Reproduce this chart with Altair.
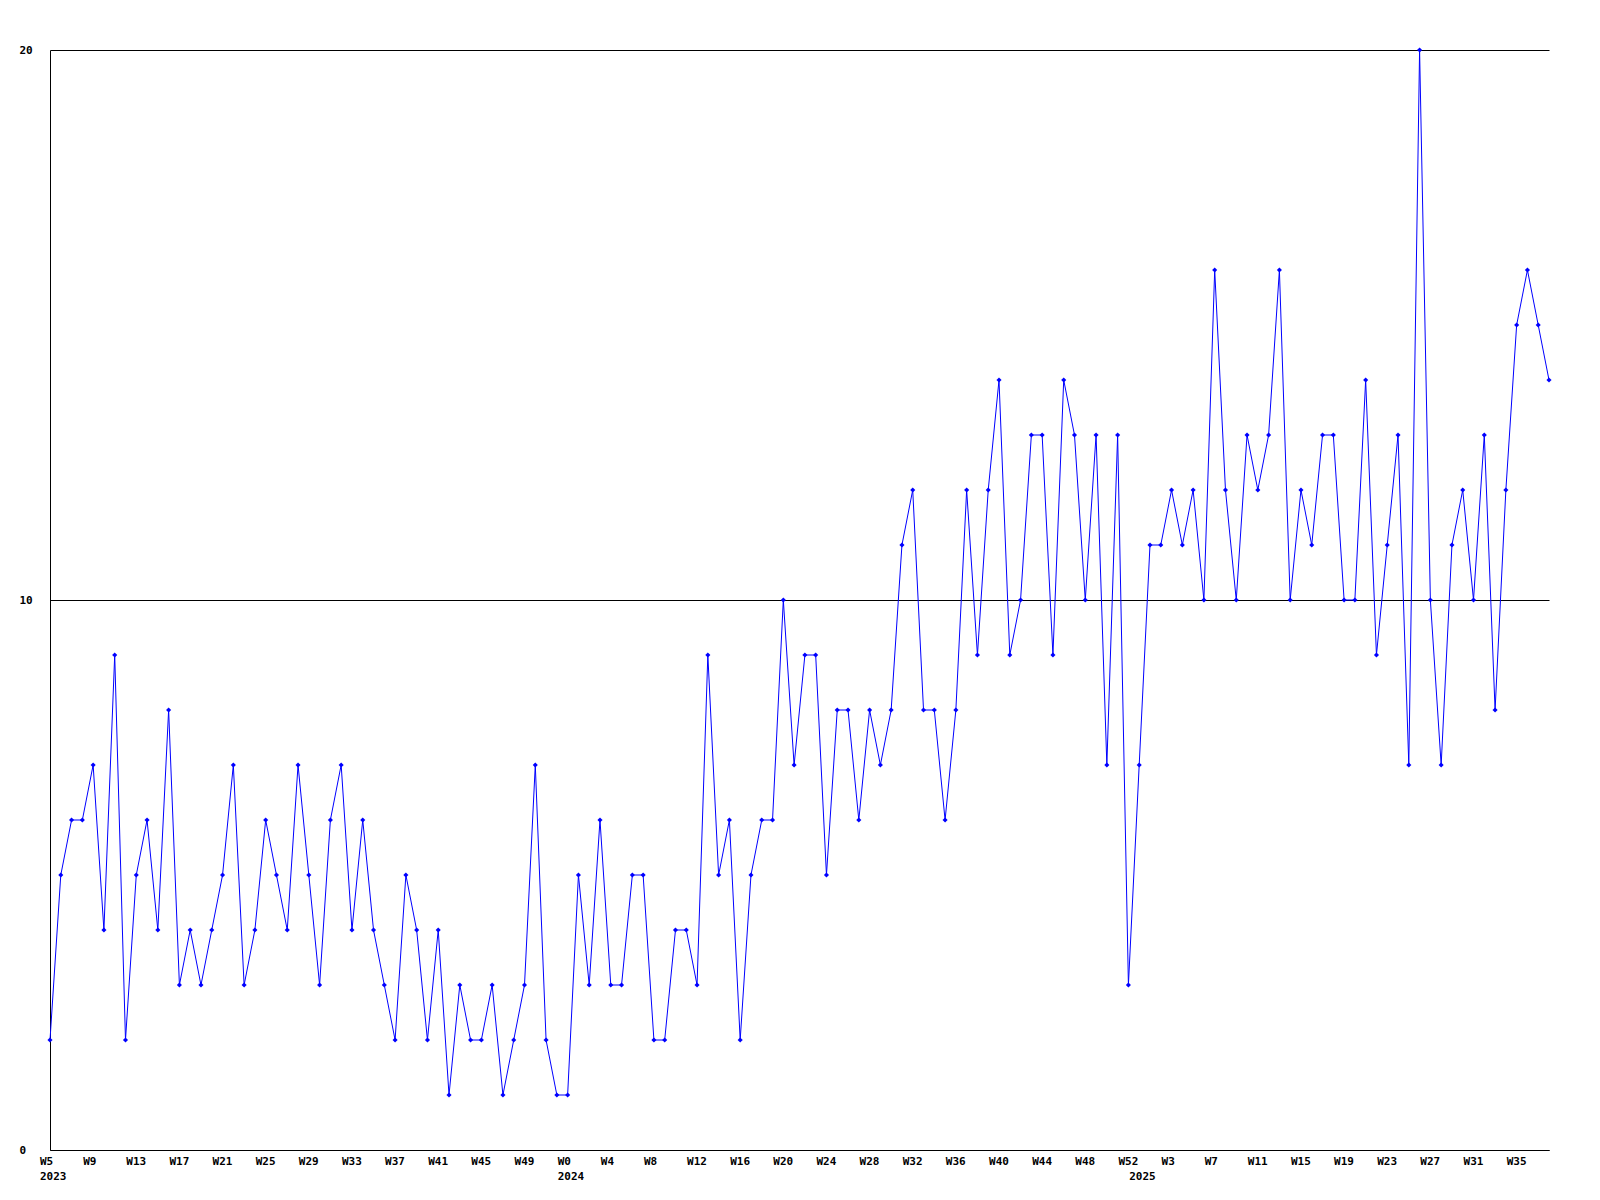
import altair as alt
import pandas as pd

# Weekly values, 2023 W5 .. 2025 W38
values_2023 = [2, 5, 6, 6, 7, 4, 9, 2, 5, 6, 4, 8, 3, 4, 3, 4, 5, 7, 3, 4,
               6, 5, 4, 7, 5, 3, 6, 7, 4, 6, 4, 3, 2, 5, 4, 2, 4, 1, 3, 2,
               2, 3, 1, 2, 3, 7, 2, 1]
values_2024 = [1, 5, 3, 6, 3, 3, 5, 5, 2, 2, 4, 4, 3, 9, 5, 6, 2, 5, 6, 6,
               10, 7, 9, 9, 5, 8, 8, 6, 8, 7, 8, 11, 12, 8, 8, 6, 8, 12, 9, 12,
               14, 9, 10, 13, 13, 9, 14, 13, 10, 13, 7, 13, 3]
values_2025 = [7, 11, 11, 12, 11, 12, 10, 16, 12, 10, 13, 12, 13, 16, 10, 12, 11, 13, 13, 10,
               10, 14, 9, 11, 13, 7, 20, 10, 7, 11, 12, 10, 13, 8, 12, 15, 16, 15, 14]

years = ["2023", "2024", "2025"]
tick_labels = ["W5", "W9", "W13", "W17", "W21", "W25", "W29", "W33", "W37", "W41", "W45", "W49",
               "W0", "W4", "W8", "W12", "W16", "W20", "W24", "W28", "W32", "W36", "W40", "W44",
               "W48", "W52", "W3", "W7", "W11", "W15", "W19", "W23", "W27", "W31", "W35"]
y_ticks = [0, 10, 20]

values = values_2023 + values_2024 + values_2025
n = len(values)
df = pd.DataFrame({"idx": list(range(n)), "count": values})
ticks_df = pd.DataFrame({"idx": list(range(0, n, 4))[:len(tick_labels)], "label": tick_labels})
year_starts = [0, len(values_2023), len(values_2023) + len(values_2024)]
years_df = pd.DataFrame({"idx": year_starts, "label": years})

FONT = "DejaVu Sans Mono"

x_enc = alt.X("idx:Q", scale=alt.Scale(domain=[0, n - 1], nice=False, zero=False),
              axis=alt.Axis(title=None, labels=False, ticks=False, grid=False,
                            domainColor="black", domainWidth=1))
y_enc = alt.Y("count:Q", scale=alt.Scale(domain=[0, 20], nice=False),
              axis=alt.Axis(title=None, values=y_ticks, ticks=False, grid=True,
                            gridColor="black", gridOpacity=1, gridWidth=1,
                            domainColor="black", domainWidth=1,
                            labelAlign="left", labelBaseline="middle", labelPadding=31,
                            labelFont=FONT, labelFontWeight="bold", labelFontSize=11,
                            labelColor="black"))

line = alt.Chart(df).mark_line(color="#0000ff", strokeWidth=1).encode(x=x_enc, y=y_enc)
pts = alt.Chart(df).mark_point(shape="diamond", filled=True, size=26, color="#0000ff",
                               opacity=1).encode(x="idx:Q", y="count:Q")

week_text = alt.Chart(ticks_df).mark_text(
    align="left", baseline="middle", dx=-10, dy=12, font=FONT, fontWeight="bold",
    fontSize=11, color="black").encode(x="idx:Q", y=alt.datum(0), text="label:N")
year_text = alt.Chart(years_df).mark_text(
    align="left", baseline="middle", dx=-10, dy=27, font=FONT, fontWeight="bold",
    fontSize=11, color="black").encode(x="idx:Q", y=alt.datum(0), text="label:N")

chart = alt.layer(line, pts, week_text, year_text).properties(
    width=1499, height=1100,
    padding={"left": 42, "top": 42, "right": 43, "bottom": 42},
    autosize="none",
    background="white",
).configure_view(stroke=None)

chart.save("out.html", embed_options={"renderer": "svg", "actions": False})
